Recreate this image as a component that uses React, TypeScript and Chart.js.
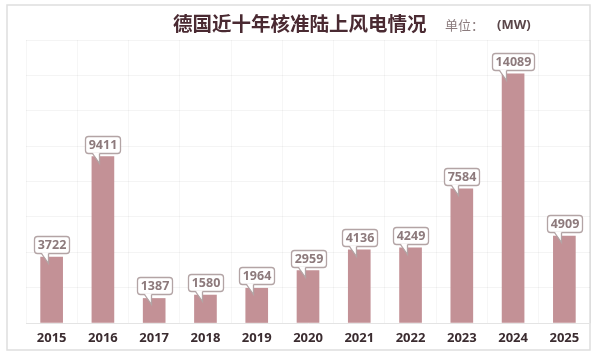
import React, { useEffect, useRef } from 'react';
import { Chart, registerables } from 'chart.js';

Chart.register(...registerables);

const years = ['2015', '2016', '2017', '2018', '2019', '2020', '2021', '2022', '2023', '2024', '2025'];
const approvedMW = [3722, 9411, 1387, 1580, 1964, 2959, 4136, 4249, 7584, 14089, 4909];
const yMax = 16000;
const yStep = 2000;
const titleText = '德国近十年核准陆上风电情况';
const unitLabel = '单位：';
const unitValue = '(MW)';

const FONT = "'Noto Sans', 'Noto Sans CJK SC', sans-serif";
const CJK = "'Noto Sans CJK SC', 'Noto Sans', sans-serif";

const framePlugin = {
  id: 'frameAndTitle',
  beforeDraw(chart: any) {
    const ctx = chart.ctx;
    ctx.save();
    ctx.fillStyle = '#ffffff';
    ctx.fillRect(0, 0, chart.width, chart.height);
    ctx.strokeStyle = '#dedede';
    ctx.lineWidth = 1.5;
    ctx.strokeRect(7, 5, 583, 345);
    ctx.restore();
  },
  afterDraw(chart: any) {
    const ctx = chart.ctx;
    ctx.save();
    ctx.textBaseline = 'middle';
    ctx.textAlign = 'left';
    ctx.fillStyle = '#4a2a32';
    ctx.font = `bold 19.5px ${CJK}`;
    ctx.fillText(titleText, 173, 24);
    ctx.fillStyle = '#8c7c7e';
    ctx.font = `13px ${CJK}`;
    ctx.fillText(unitLabel, 445, 25);
    ctx.fillStyle = '#5a4649';
    ctx.font = `bold 13px ${FONT}`;
    ctx.fillText(unitValue, 497, 25);
    ctx.restore();
  },
};

const calloutPlugin = {
  id: 'callouts',
  afterDatasetsDraw(chart: any) {
    const ctx = chart.ctx;
    const meta = chart.getDatasetMeta(0);
    const data = chart.data.datasets[0].data as number[];
    ctx.save();
    ctx.font = `bold 12.5px ${FONT}`;
    meta.data.forEach((bar: any, i: number) => {
      const text = String(data[i]);
      const tw = ctx.measureText(text).width;
      const w = Math.round(tw + 6);
      const h = 17;
      const bx = Math.round(bar.x - w / 2) + 0.5;
      const bottom = Math.round(bar.y - 4) + 0.5;
      const top = bottom - h;
      const r = 3;
      ctx.lineWidth = 1.3;
      ctx.strokeStyle = '#b3a4a5';
      ctx.fillStyle = '#ffffff';
      ctx.beginPath();
      ctx.moveTo(bx + r, top);
      ctx.lineTo(bx + w - r, top);
      ctx.quadraticCurveTo(bx + w, top, bx + w, top + r);
      ctx.lineTo(bx + w, bottom - r);
      ctx.quadraticCurveTo(bx + w, bottom, bx + w - r, bottom);
      ctx.lineTo(bx + r, bottom);
      ctx.quadraticCurveTo(bx, bottom, bx, bottom - r);
      ctx.lineTo(bx, top + r);
      ctx.quadraticCurveTo(bx, top, bx + r, top);
      ctx.closePath();
      ctx.fill();
      ctx.stroke();
      // tail
      const t1 = bx + 7;
      const t2 = bx + 14;
      ctx.beginPath();
      ctx.moveTo(t1, bottom - 1);
      ctx.lineTo(t2, bottom + 10);
      ctx.lineTo(t2, bottom - 1);
      ctx.closePath();
      ctx.fill();
      ctx.beginPath();
      ctx.moveTo(t1, bottom);
      ctx.lineTo(t2, bottom + 10);
      ctx.lineTo(t2, bottom);
      ctx.stroke();
      ctx.fillStyle = '#8d7a7c';
      ctx.textAlign = 'center';
      ctx.textBaseline = 'middle';
      ctx.fillText(text, bx + w / 2, top + h / 2 + 0.5);
    });
    ctx.restore();
  },
};

export default function App() {
  const canvasRef = useRef<HTMLCanvasElement>(null);

  useEffect(() => {
    document.body.style.margin = '0';
    const canvas = canvasRef.current;
    if (!canvas) return;
    const chart = new Chart(canvas, {
      type: 'bar',
      data: {
        labels: years,
        datasets: [
          {
            data: approvedMW,
            backgroundColor: '#c39196',
            barThickness: 22,
          },
        ],
      },
      options: {
        responsive: false,
        animation: false,
        maintainAspectRatio: false,
        layout: { padding: { top: 40, right: 10, left: 0, bottom: 0 } },
        plugins: {
          legend: { display: false },
          tooltip: { enabled: false },
          title: { display: false },
        },
        scales: {
          x: {
            grid: { color: 'rgba(0,0,0,0.035)', drawTicks: false },
            border: { color: '#e4e4e4' },
            ticks: {
              color: '#3b2c30',
              font: { family: FONT, size: 13, weight: 'bold' },
              padding: 7,
            },
            afterFit(scale: any) {
              scale.height = 30;
            },
          },
          y: {
            min: 0,
            max: yMax,
            ticks: { display: false, stepSize: yStep },
            grid: { color: 'rgba(0,0,0,0.045)', drawTicks: false },
            border: { display: false },
            afterFit(scale: any) {
              scale.width = 26;
            },
          },
        },
      },
      plugins: [framePlugin, calloutPlugin],
    });
    return () => chart.destroy();
  }, []);

  return (
    <div style={{ width: 600, height: 353 }}>
      <canvas ref={canvasRef} width={600} height={353} style={{ display: 'block' }} />
    </div>
  );
}
